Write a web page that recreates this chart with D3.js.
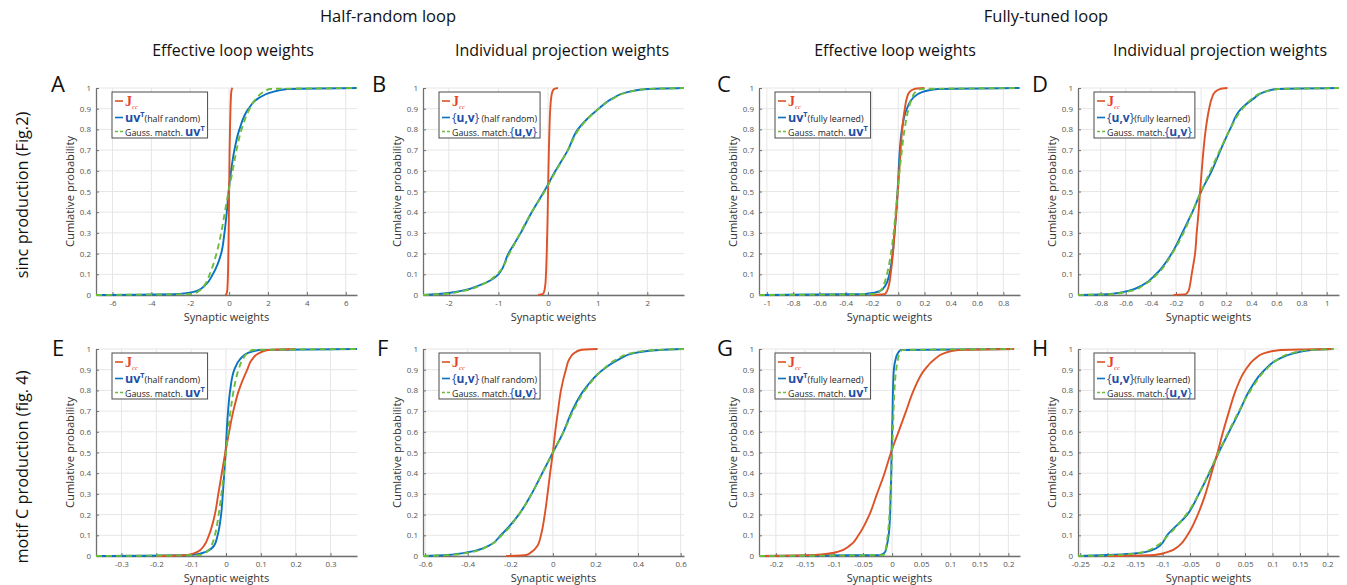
<!DOCTYPE html>
<html>
<head>
<meta charset="utf-8">
<script src="https://cdn.jsdelivr.net/npm/d3@7"></script>
<style>
  body { margin: 0; background: #fff; }
  svg { font-family: "Open Sans", sans-serif; }
</style>
</head>
<body>
<svg id="fig" width="1347" height="585"></svg>
<script>
// cumulative probability levels shared by every curve (values below are the x at each level)
const levels = [0, 0.005, 0.02, 0.05, 0.1, 0.2, 0.3, 0.4, 0.5, 0.6, 0.7, 0.8, 0.9, 0.95, 0.98, 0.995, 1]
const yTicks = [0, 0.1, 0.2, 0.3, 0.4, 0.5, 0.6, 0.7, 0.8, 0.9, 1]

const xTicksA = [-6, -4, -2, 0, 2, 4, 6]
const xTicksB = [-2, -1, 0, 1, 2]
const xTicksC = [-1, -0.8, -0.6, -0.4, -0.2, 0, 0.2, 0.4, 0.6, 0.8]
const xTicksD = [-0.8, -0.6, -0.4, -0.2, 0, 0.2, 0.4, 0.6, 0.8, 1]
const xTicksE = [-0.3, -0.2, -0.1, 0, 0.1, 0.2, 0.3]
const xTicksF = [-0.6, -0.4, -0.2, 0, 0.2, 0.4, 0.6]
const xTicksG = [-0.2, -0.15, -0.1, -0.05, 0, 0.05, 0.1, 0.15, 0.2]
const xTicksH = [-0.25, -0.2, -0.15, -0.1, -0.05, 0, 0.05, 0.1, 0.15, 0.2]

const xDomainA = [-6.85, 6.58]
const xDomainB = [-2.52, 2.74]
const xDomainC = [-1.06, 0.927]
const xDomainD = [-0.98, 1.098]
const xDomainE = [-0.373, 0.376]
const xDomainF = [-0.61, 0.616]
const xDomainG = [-0.229, 0.22]
const xDomainH = [-0.254, 0.221]

const jccA   = [-0.2, -0.14, -0.1, -0.08, -0.06, -0.04, -0.025, -0.012, 0, 0.012, 0.025, 0.045, 0.07, 0.09, 0.11, 0.14, 0.18]
const uvA    = [-6.85, -2.6, -1.65, -1.2, -0.84, -0.41, -0.24, -0.12, -0.03, 0.1, 0.27, 0.53, 1.0, 1.5, 2.2, 3.0, 6.58]
const gaussA = [-6.85, -1.85, -1.55, -1.25, -1.0, -0.65, -0.41, -0.22, -0.03, 0.18, 0.38, 0.64, 1.06, 1.4, 1.75, 2.1, 6.58]

const jccB   = [-0.2, -0.1, -0.075, -0.055, -0.042, -0.027, -0.016, -0.007, 0, 0.008, 0.017, 0.028, 0.045, 0.062, 0.085, 0.12, 0.2]
const uvB    = [-2.52, -2.2, -1.75, -1.35, -1.0, -0.8, -0.55, -0.33, -0.08, 0.15, 0.4, 0.6, 1.02, 1.3, 1.6, 2.0, 2.74]
const gaussB = [-2.52, -2.1, -1.7, -1.33, -1.03, -0.78, -0.56, -0.33, -0.07, 0.16, 0.4, 0.62, 1.02, 1.32, 1.62, 1.98, 2.74]

const jccC   = [-0.2, -0.1, -0.085, -0.07, -0.058, -0.04, -0.028, -0.015, -0.003, 0.008, 0.018, 0.03, 0.05, 0.065, 0.085, 0.12, 0.2]
const uvC    = [-1.06, -0.25, -0.137, -0.094, -0.068, -0.043, -0.028, -0.015, -0.005, 0.003, 0.012, 0.028, 0.066, 0.11, 0.18, 0.3, 0.927]
const gaussC = [-1.06, -0.17, -0.137, -0.11, -0.086, -0.056, -0.035, -0.02, -0.005, 0.01, 0.028, 0.048, 0.079, 0.104, 0.13, 0.165, 0.927]

const jccD   = [-0.22, -0.12, -0.1, -0.088, -0.075, -0.048, -0.035, -0.02, -0.008, 0.005, 0.019, 0.037, 0.064, 0.085, 0.11, 0.15, 0.21]
const uvD    = [-0.98, -0.72, -0.58, -0.46, -0.36, -0.235, -0.15, -0.07, 0, 0.085, 0.155, 0.23, 0.32, 0.42, 0.5, 0.6, 1.098]
const gaussD = [-0.98, -0.7, -0.56, -0.45, -0.35, -0.23, -0.14, -0.07, 0, 0.075, 0.15, 0.23, 0.33, 0.41, 0.5, 0.62, 1.098]

const jccE   = [-0.2, -0.11, -0.082, -0.063, -0.049, -0.032, -0.022, -0.012, -0.002, 0.009, 0.021, 0.037, 0.061, 0.075, 0.095, 0.12, 0.2]
const uvE    = [-0.373, -0.1, -0.058, -0.034, -0.024, -0.014, -0.009, -0.005, -0.001, 0.002, 0.006, 0.012, 0.024, 0.04, 0.062, 0.095, 0.376]
const gaussE = [-0.373, -0.075, -0.055, -0.042, -0.032, -0.021, -0.013, -0.006, 0, 0.006, 0.013, 0.022, 0.036, 0.048, 0.062, 0.077, 0.376]

const jccF   = [-0.22, -0.125, -0.1, -0.072, -0.056, -0.038, -0.025, -0.013, 0, 0.011, 0.024, 0.038, 0.061, 0.077, 0.1, 0.13, 0.21]
const uvF    = [-0.61, -0.5, -0.39, -0.3, -0.245, -0.16, -0.1, -0.05, 0, 0.05, 0.09, 0.145, 0.235, 0.31, 0.38, 0.5, 0.616]
const gaussF = [-0.61, -0.48, -0.38, -0.3, -0.24, -0.16, -0.1, -0.05, 0, 0.05, 0.095, 0.15, 0.235, 0.3, 0.37, 0.48, 0.616]

const jccG   = [-0.229, -0.134, -0.094, -0.073, -0.058, -0.039, -0.026, -0.013, -0.002, 0.011, 0.024, 0.037, 0.056, 0.073, 0.09, 0.113, 0.21]
const uvG    = [-0.229, -0.02, -0.012, -0.009, -0.006, -0.0035, -0.0025, -0.0015, -0.001, 0, 0.0008, 0.0015, 0.003, 0.006, 0.01, 0.015, 0.207]
const gaussG = [-0.229, -0.014, -0.012, -0.01, -0.0075, -0.0046, -0.003, -0.0013, 0, 0.0013, 0.0025, 0.004, 0.007, 0.01, 0.013, 0.017, 0.207]

const jccH   = [-0.2, -0.115, -0.09, -0.07, -0.055, -0.036, -0.022, -0.011, 0, 0.01, 0.021, 0.033, 0.051, 0.067, 0.085, 0.115, 0.21]
const uvH    = [-0.254, -0.2, -0.13, -0.105, -0.092, -0.055, -0.034, -0.015, 0.002, 0.021, 0.04, 0.058, 0.086, 0.11, 0.14, 0.17, 0.211]
const gaussH = [-0.254, -0.18, -0.135, -0.11, -0.09, -0.057, -0.034, -0.016, 0.002, 0.02, 0.039, 0.06, 0.088, 0.11, 0.135, 0.165, 0.211]

const loopTitles = ['Half-random loop', 'Fully-tuned loop']
const weightTitles = ['Effective loop weights', 'Individual projection weights']
const rowTitles = ['sinc production (Fig.2)', 'motif C production (fig. 4)']

const panels = [
  { name: 'A', col: 0, row: 0, domain: xDomainA, ticks: xTicksA, jcc: jccA, uv: uvA, gauss: gaussA, kind: 'uvT', note: '(half random)' },
  { name: 'B', col: 1, row: 0, domain: xDomainB, ticks: xTicksB, jcc: jccB, uv: uvB, gauss: gaussB, kind: 'set', note: ' (half random)' },
  { name: 'C', col: 2, row: 0, domain: xDomainC, ticks: xTicksC, jcc: jccC, uv: uvC, gauss: gaussC, kind: 'uvT', note: '(fully learned)' },
  { name: 'D', col: 3, row: 0, domain: xDomainD, ticks: xTicksD, jcc: jccD, uv: uvD, gauss: gaussD, kind: 'set', note: '(fully learned)' },
  { name: 'E', col: 0, row: 1, domain: xDomainE, ticks: xTicksE, jcc: jccE, uv: uvE, gauss: gaussE, kind: 'uvT', note: '(half random)' },
  { name: 'F', col: 1, row: 1, domain: xDomainF, ticks: xTicksF, jcc: jccF, uv: uvF, gauss: gaussF, kind: 'set', note: ' (half random)' },
  { name: 'G', col: 2, row: 1, domain: xDomainG, ticks: xTicksG, jcc: jccG, uv: uvG, gauss: gaussG, kind: 'uvT', note: '(fully learned)' },
  { name: 'H', col: 3, row: 1, domain: xDomainH, ticks: xTicksH, jcc: jccH, uv: uvH, gauss: gaussH, kind: 'set', note: '(fully learned)' }
]

// layout
const colLeft = [96, 423, 759, 1078]
const rowTop = [88, 349]
const plotW = 261, plotH = 207
const letterX = [[51, 372, 717, 1032], [52, 377, 717, 1032]]
const letterY = [92, 356]

const colours = {
  jcc: '#dd5226', uv: '#0a72c2', gauss: '#6cbd3c',
  varText: '#1f4ea6', jText: '#e8432a', grid: '#e6e6e6', axis: '#707070', tick: '#555'
}

const svg = d3.select('#fig')

// headers
svg.selectAll('.loop-title')
  .data(loopTitles)
  .enter()
  .append('text')
  .attr('x', (d, i) => [388, 1046][i])
  .attr('y', 22)
  .attr('text-anchor', 'middle')
  .style('font-size', '16.5px')
  .style('fill', '#111')
  .text(d => d)

svg.selectAll('.weight-title')
  .data([0, 1, 2, 3])
  .enter()
  .append('text')
  .attr('x', i => [233, 562, 895, 1220][i])
  .attr('y', 56)
  .attr('text-anchor', 'middle')
  .style('font-size', '16px')
  .style('fill', '#111')
  .text(i => weightTitles[i % 2])

svg.selectAll('.row-title')
  .data(rowTitles)
  .enter()
  .append('text')
  .attr('transform', (d, i) => `translate(28,${[195, 467][i]}) rotate(-90)`)
  .attr('text-anchor', 'middle')
  .style('font-size', '16.3px')
  .style('fill', '#111')
  .text(d => d)

const fmt = d => String(d)

function addVar(text, kind, size) {
  // blue variable name: uv^T or {u,v}
  if (kind === 'uvT') {
    text.append('tspan').text('uv')
      .style('font-weight', 'bold').style('font-size', size + 'px').style('fill', colours.varText)
    text.append('tspan').text('T').attr('dy', -5)
      .style('font-weight', 'bold').style('font-size', (size * 0.58) + 'px').style('fill', colours.varText)
    return 5
  }
  text.append('tspan').text('{').style('font-size', (size - 0.5) + 'px').style('fill', colours.varText)
  text.append('tspan').text('u,v')
    .style('font-weight', 'bold').style('font-size', (size - 0.5) + 'px').style('fill', colours.varText)
  text.append('tspan').text('}').style('font-size', (size - 0.5) + 'px').style('fill', colours.varText)
  return 0
}

function drawPanel(p) {
  const left = colLeft[p.col], top = rowTop[p.row]
  const g = svg.append('g').attr('transform', `translate(${left},${top})`)

  const x = d3.scaleLinear().domain(p.domain).range([0, plotW])
  const y = d3.scaleLinear().domain([0, 1]).range([plotH, 0])

  // grid
  g.append('g').selectAll('line')
    .data(p.ticks)
    .enter()
    .append('line')
    .attr('x1', d => x(d)).attr('x2', d => x(d))
    .attr('y1', 0).attr('y2', plotH)
    .style('stroke', colours.grid)
  g.append('g').selectAll('line')
    .data(yTicks)
    .enter()
    .append('line')
    .attr('x1', 0).attr('x2', plotW)
    .attr('y1', d => y(d)).attr('y2', d => y(d))
    .style('stroke', colours.grid)

  // axes
  const xAxis = g.append('g')
    .attr('transform', `translate(0,${plotH})`)
    .call(d3.axisBottom(x).tickValues(p.ticks).tickFormat(fmt).tickSize(-3).tickSizeOuter(0).tickPadding(5))
  const yAxis = g.append('g')
    .call(d3.axisLeft(y).tickValues(yTicks).tickFormat(fmt).tickSize(-3).tickSizeOuter(0).tickPadding(5))
  ;[xAxis, yAxis].forEach(a => {
    a.select('.domain').style('stroke', colours.axis).style('stroke-width', 1.3)
    a.selectAll('.tick line').style('stroke', colours.axis)
    a.selectAll('.tick text').style('font-size', '8px').style('fill', colours.tick)
      .style('font-family', '"Open Sans", sans-serif')
  })

  g.append('text')
    .attr('x', plotW / 2).attr('y', plotH + 26)
    .attr('text-anchor', 'middle')
    .style('font-size', '11px').style('fill', '#333')
    .text('Synaptic weights')
  g.append('text')
    .attr('transform', `translate(-22,${plotH / 2}) rotate(-90)`)
    .attr('text-anchor', 'middle')
    .style('font-size', '11.2px').style('fill', '#333')
    .text('Cumlative probability')

  // curves
  const clipId = 'clip-' + p.name
  g.append('clipPath').attr('id', clipId)
    .append('rect').attr('x', 0).attr('y', -2).attr('width', plotW).attr('height', plotH + 3)

  const line = d3.line()
    .x(d => x(d[0]))
    .y(d => y(d[1]))
    .curve(d3.curveMonotoneY)
  const pts = arr => arr.map((v, i) => [v, levels[i]])

  const curves = g.append('g').attr('clip-path', `url(#${clipId})`)
  curves.append('path').attr('d', line(pts(p.uv)))
    .style('fill', 'none').style('stroke', colours.uv).style('stroke-width', 1.9)
  curves.append('path').attr('d', line(pts(p.jcc)))
    .style('fill', 'none').style('stroke', colours.jcc).style('stroke-width', 1.9)
  curves.append('path').attr('d', line(pts(p.gauss)))
    .style('fill', 'none').style('stroke', colours.gauss).style('stroke-width', 1.9)
    .style('stroke-dasharray', '6,4')

  // legend
  const lg = g.append('g').attr('transform', 'translate(16,4)')
  const box = lg.append('rect').attr('height', 46)
    .style('fill', '#fff').style('stroke', '#4a4a4a').style('stroke-width', 1)
  const rowsY = [9, 25.5, 39.5]
  const sample = (yy, c, dash) => lg.append('line')
    .attr('x1', 3).attr('x2', 11).attr('y1', yy).attr('y2', yy)
    .style('stroke', c).style('stroke-width', 1.6)
    .style('stroke-dasharray', dash || null)
  sample(rowsY[0], colours.jcc)
  sample(rowsY[1], colours.uv)
  sample(rowsY[2], colours.gauss, '3,2')

  const t1 = lg.append('text').attr('x', 13).attr('y', rowsY[0] + 5)
  t1.append('tspan').text('J')
    .style('font-family', '"Liberation Serif", serif').style('font-weight', 'bold')
    .style('font-size', '14px').style('fill', colours.jText)
  t1.append('tspan').text('cc').attr('dy', 3)
    .style('font-family', '"Liberation Serif", serif').style('font-style', 'italic')
    .style('font-size', '6.5px').style('fill', colours.jText)

  const t2 = lg.append('text').attr('x', 13).attr('y', rowsY[1] + 4.5)
  const back2 = addVar(t2, p.kind, 12.5)
  t2.append('tspan').text(p.note).attr('dy', back2)
    .style('font-size', '8.8px').style('fill', '#222')

  const t3 = lg.append('text').attr('x', 13).attr('y', rowsY[2] + 4)
  t3.append('tspan').text(p.kind === 'uvT' ? 'Gauss. match. ' : 'Gauss. match.')
    .style('font-size', '8.8px').style('fill', '#222')
  addVar(t3, p.kind, 12.5)

  const w = d3.max([t1, t2, t3], t => t.node().getComputedTextLength())
  box.attr('width', 13 + w + 3)

  // panel letter
  svg.append('text')
    .attr('x', letterX[p.row][p.col]).attr('y', letterY[p.row])
    .style('font-size', '22px').style('fill', '#111')
    .text(p.name)
}

panels.forEach(drawPanel)
</script>
</body>
</html>
